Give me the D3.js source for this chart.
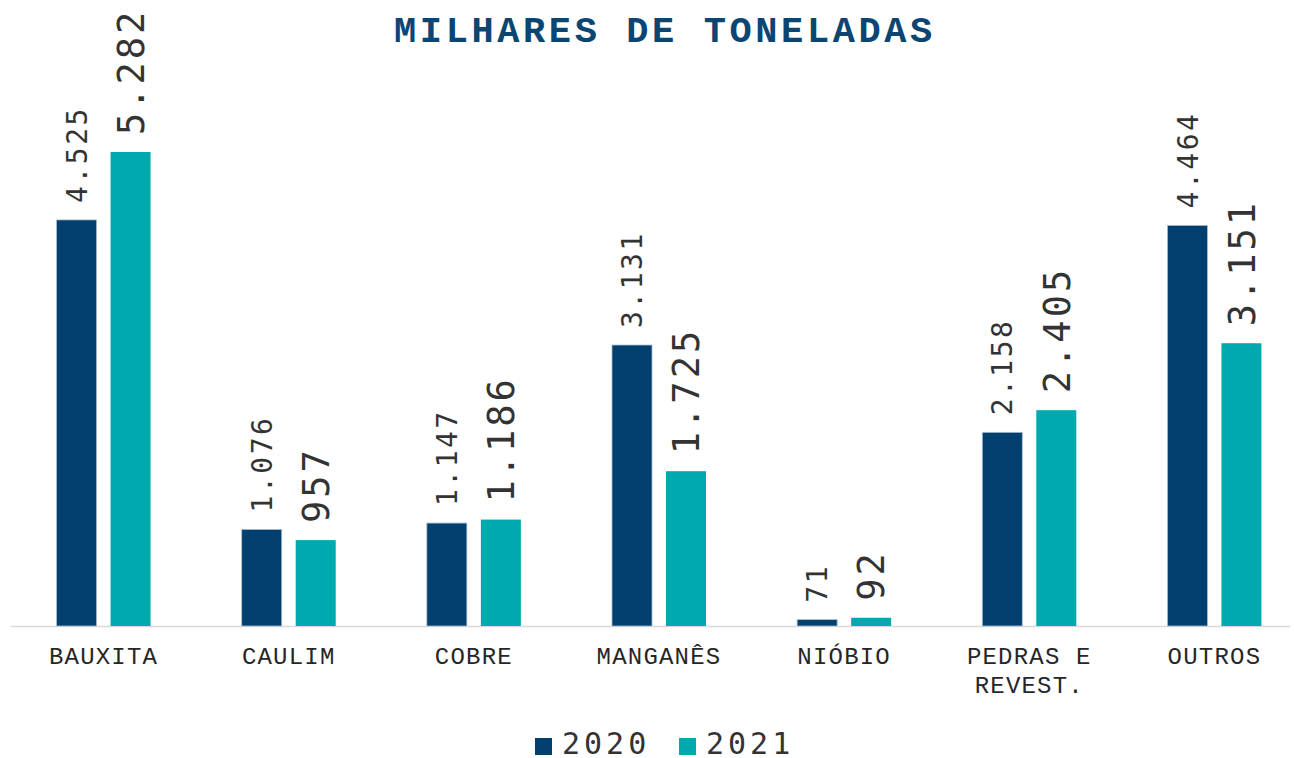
<!DOCTYPE html>
<html>
<head>
<meta charset="utf-8">
<script src="https://cdn.jsdelivr.net/npm/d3@7"></script>
<style>
  html, body { margin: 0; padding: 0; background: #fff; }
  svg { display: block; }
</style>
</head>
<body>
<div id="chart"></div>
<script>
// categories and series (milhares de toneladas)
const categories = ['BAUXITA', 'CAULIM', 'COBRE', 'MANGANÊS', 'NIÓBIO', 'PEDRAS E|REVEST.', 'OUTROS'];
const years = ['2020', '2021'];
const values2020 = [4525, 1076, 1147, 3131, 71, 2158, 4464];
const values2021 = [5282, 957, 1186, 1725, 92, 2405, 3151];

const W = 1294, H = 758;
const baseY = 626;
const colors = { '2020': '#013f6e', '2021': '#00a9ad' };
const serifMono = '"Courier New", "Nimbus Mono PS", "Nimbus Mono L", FreeMono, Courier, "Liberation Mono", monospace';
const fmt = v => d3.format(',')(v).replace(/,/g, '.');

const rows = categories.map((c, i) => ({
  cat: c,
  vals: [{ year: '2020', v: values2020[i] }, { year: '2021', v: values2021[i] }]
}));

const svg = d3.select('#chart').append('svg')
  .attr('width', W)
  .attr('height', H);

const x = d3.scaleBand()
  .domain(categories)
  .range([11, 1307])
  .padding(0);

const x1 = d3.scaleBand()
  .domain(years)
  .range([-47, 47])
  .paddingInner(0.2593);

const y = d3.scaleLinear()
  .domain([0, 5282])
  .range([baseY, 152]);

// title
svg.append('text')
  .attr('x', 665)
  .attr('y', 42)
  .attr('text-anchor', 'middle')
  .attr('font-family', serifMono)
  .attr('font-weight', 700)
  .attr('font-size', '37px')
  .attr('letter-spacing', '3.6px')
  .attr('fill', '#0b4673')
  .text('MILHARES DE TONELADAS');

// axis line
svg.append('line')
  .attr('x1', 11).attr('x2', 1290)
  .attr('y1', baseY + 0.5).attr('y2', baseY + 0.5)
  .attr('stroke', '#d9d9d9')
  .attr('stroke-width', 1.5);

const groups = svg.selectAll('.grp').data(rows)
  .join('g')
  .attr('class', 'grp')
  .attr('transform', d => `translate(${x(d.cat) + x.bandwidth() / 2},0)`);

groups.selectAll('rect').data(d => d.vals)
  .join('rect')
  .attr('x', d => x1(d.year))
  .attr('y', d => y(d.v))
  .attr('width', x1.bandwidth())
  .attr('height', d => baseY - y(d.v))
  .attr('fill', d => colors[d.year])
  .attr('stroke', d => d.year === '2020' ? '#a9bccd' : 'none')
  .attr('stroke-width', 0.8);

// value labels (rotated)
groups.selectAll('text.val').data(d => d.vals)
  .join('text')
  .attr('class', 'val')
  .attr('transform', d => `translate(${x1(d.year) + x1.bandwidth() / 2},${y(d.v) - 17}) rotate(-90)`)
  .attr('dy', '0.36em')
  .attr('text-anchor', 'start')
  .attr('font-family', '"DejaVu Sans Mono", monospace')
  .attr('font-size', d => d.year === '2020' ? '28px' : '37px')
  .attr('letter-spacing', d => d.year === '2020' ? '2.5px' : '3px')
  .attr('fill', '#333')
  .text(d => fmt(d.v));

// category labels
groups.append('text')
  .attr('class', 'cat')
  .attr('text-anchor', 'middle')
  .attr('font-family', serifMono)
  .attr('font-size', '24px')
  .attr('letter-spacing', '1.2px')
  .attr('fill', '#262626')
  .each(function(d) {
    const lines = d.cat.split('|');
    d3.select(this).selectAll('tspan').data(lines)
      .join('tspan')
      .attr('x', 0)
      .attr('y', (l, i) => 664 + i * 29)
      .text(l => l);
  });

// legend
const legend = svg.append('g').attr('class', 'legend');
const legendX = [535, 679];
years.forEach((yr, i) => {
  legend.append('rect')
    .attr('x', legendX[i])
    .attr('y', 738)
    .attr('width', 17)
    .attr('height', 17)
    .attr('fill', colors[yr]);
  legend.append('text')
    .attr('x', legendX[i] + 27)
    .attr('y', 754)
    .attr('font-family', '"DejaVu Sans Mono", monospace')
    .attr('font-size', '30px')
    .attr('letter-spacing', '4px')
    .attr('fill', '#333')
    .text(yr);
});
</script>
</body>
</html>
